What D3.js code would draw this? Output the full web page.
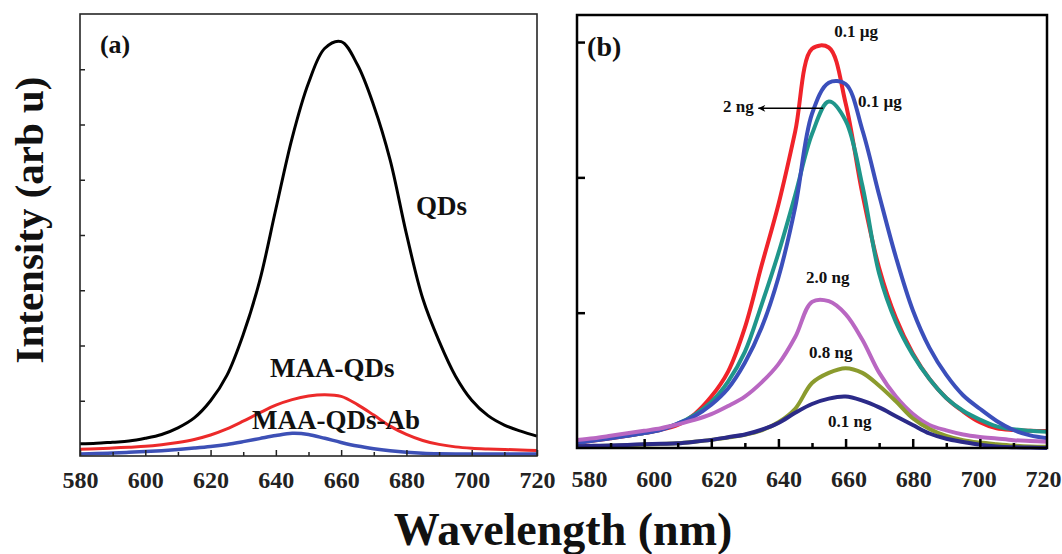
<!DOCTYPE html>
<html>
<head>
<meta charset="utf-8">
<script src="https://cdn.jsdelivr.net/npm/d3@7"></script>
<style>
body { margin: 0; background: #fff; }
text { font-family: "Liberation Serif", "Times New Roman", serif; font-weight: bold; }
</style>
</head>
<body>
<div id="chart"></div>
<script>
// 画布大小
const width = 1062, height = 554;

// 波长 (nm)
const wavelengths = [580, 585, 590, 595, 600, 605, 610, 615, 620, 625, 630, 635, 640, 645, 650,
                     655, 660, 665, 670, 675, 680, 685, 690, 695, 700, 705, 710, 715, 720];
const xMajorTicks = [580, 600, 620, 640, 660, 680, 700, 720];
const xMinorTicks = [590, 610, 630, 650, 670, 690, 710];
const yTicksA = [1, 2, 3, 4, 5, 6, 7];
const yTicksB = [1, 2, 3];

// (a) 强度
const qds      = [0.22, 0.23, 0.25, 0.27, 0.32, 0.39, 0.51, 0.69, 1.00, 1.46, 2.20, 3.16, 4.47, 5.76, 6.75,
                  7.38, 7.50, 7.08, 6.34, 5.36, 4.02, 2.85, 2.08, 1.45, 1.01, 0.73, 0.56, 0.45, 0.36];
const maaQds   = [0.12, 0.13, 0.145, 0.16, 0.175, 0.205, 0.245, 0.30, 0.38, 0.49, 0.63, 0.78, 0.92, 1.02, 1.085,
                  1.11, 1.08, 0.93, 0.74, 0.54, 0.39, 0.28, 0.21, 0.165, 0.14, 0.127, 0.118, 0.11, 0.10];
const maaQdsAb = [0.035, 0.045, 0.055, 0.067, 0.08, 0.097, 0.118, 0.143, 0.172, 0.21, 0.26, 0.315, 0.37, 0.41, 0.39,
                  0.32, 0.245, 0.18, 0.133, 0.097, 0.07, 0.052, 0.042, 0.037, 0.035, 0.035, 0.035, 0.035, 0.035];

// (b) 强度
const ug01Red  = [0.035, 0.055, 0.072, 0.09, 0.11, 0.135, 0.17, 0.25, 0.38, 0.565, 0.89, 1.35, 1.80, 2.34, 2.95,
                  2.96, 2.55, 1.88, 1.33, 0.96, 0.70, 0.51, 0.37, 0.27, 0.19, 0.145, 0.133, 0.128, 0.126];
const ug01Blue = [0.035, 0.055, 0.072, 0.09, 0.11, 0.135, 0.18, 0.235, 0.32, 0.44, 0.63, 0.89, 1.26, 1.78, 2.47,
                  2.70, 2.69, 2.35, 1.87, 1.41, 1.02, 0.74, 0.54, 0.39, 0.29, 0.20, 0.133, 0.093, 0.072];
const ng2Teal  = [0.04, 0.058, 0.075, 0.092, 0.11, 0.138, 0.18, 0.245, 0.34, 0.49, 0.71, 1.06, 1.44, 1.87, 2.32,
                  2.56, 2.42, 1.94, 1.29, 0.93, 0.69, 0.51, 0.37, 0.275, 0.21, 0.16, 0.138, 0.127, 0.12];
const ng20     = [0.059, 0.072, 0.09, 0.109, 0.127, 0.146, 0.175, 0.208, 0.25, 0.31, 0.38, 0.485, 0.62, 0.82, 1.08,
                  1.085, 0.99, 0.80, 0.557, 0.38, 0.253, 0.17, 0.13, 0.10, 0.082, 0.07, 0.058, 0.052, 0.047];
const ng08     = [0.01, 0.013, 0.016, 0.02, 0.025, 0.03, 0.035, 0.046, 0.06, 0.077, 0.097, 0.13, 0.19, 0.29, 0.48,
                  0.555, 0.59, 0.555, 0.46, 0.345, 0.22, 0.14, 0.09, 0.058, 0.04, 0.028, 0.018, 0.012, 0.01];
const ng01     = [0.013, 0.016, 0.019, 0.023, 0.027, 0.031, 0.035, 0.046, 0.06, 0.08, 0.10, 0.135, 0.185, 0.26, 0.325,
                  0.365, 0.38, 0.35, 0.30, 0.235, 0.17, 0.107, 0.068, 0.045, 0.025, 0.012, 0.006, 0.003, 0.0];

const seriesA = [
  { values: qds, color: "#000000", w: 3 },
  { values: maaQds, color: "#ec2a2a", w: 3 },
  { values: maaQdsAb, color: "#3d50b6", w: 3.5 }
];
const seriesB = [
  { values: ug01Red, color: "#f0232a" },
  { values: ng2Teal, color: "#1f968b" },
  { values: ug01Blue, color: "#3b4fbb" },
  { values: ng20, color: "#b967c2" },
  { values: ng08, color: "#8b9b2e" },
  { values: ng01, color: "#2b2a88" }
];

const svg = d3.select("#chart").append("svg")
    .attr("width", width)
    .attr("height", height);

svg.append("rect").attr("width", width).attr("height", height).attr("fill", "#fff");

// 比例尺
const xA = d3.scaleLinear().domain([580, 720]).range([80, 537]);
const yA = d3.scaleLinear().domain([0, 8]).range([456, 14]);
const xB = d3.scaleLinear().domain([580, 720]).range([577, 1047]);
const yB = d3.scaleLinear().domain([0, 3.2]).range([448, 15]);
const xBLabel = d3.scaleLinear().domain([580, 720]).range([589, 1043]); // 右图刻度文字略有偏移

const fixAxis = (g, size, color, sw) => {
    g.select(".domain").remove();
    g.attr("font-size", size).attr("font-family", null).attr("color", color);
    g.selectAll("line").attr("stroke-width", sw);
};

// ---------- (a) ----------
const lineA = d3.line()
    .x((d, i) => xA(wavelengths[i]))
    .y(d => yA(d))
    .curve(d3.curveCatmullRom.alpha(0.5));

seriesA.forEach(s => {
    svg.append("path")
        .attr("d", lineA(s.values))
        .attr("fill", "none")
        .attr("stroke", s.color)
        .attr("stroke-width", s.w)
        .attr("stroke-linejoin", "round");
});

svg.append("g").attr("transform", `translate(0,${yA(0)})`)
    .call(d3.axisBottom(xA).tickValues(xMinorTicks).tickSizeInner(-4).tickSizeOuter(0).tickFormat(""))
    .call(g => fixAxis(g, 24, "#222", 1.5));
svg.append("g").attr("transform", `translate(0,${yA(0)})`)
    .call(d3.axisBottom(xA).tickValues(xMajorTicks).tickSizeInner(-6).tickSizeOuter(0).tickPadding(15).tickFormat(d3.format("d")))
    .call(g => fixAxis(g, 24, "#222", 1.5));
svg.append("g").attr("transform", `translate(${xA(580)},0)`)
    .call(d3.axisLeft(yA).tickValues(yTicksA).tickSizeInner(-5).tickSizeOuter(0).tickFormat(""))
    .call(g => fixAxis(g, 24, "#222", 1.5));

svg.append("rect")
    .attr("x", xA(580)).attr("y", yA(8))
    .attr("width", xA(720) - xA(580)).attr("height", yA(0) - yA(8))
    .attr("fill", "none").attr("stroke", "#262626").attr("stroke-width", 1.6);

const addText = (txt, x, y, size) => svg.append("text")
    .attr("x", x).attr("y", y).attr("font-size", size).attr("fill", "#111").text(txt);

addText("(a)", xA(586.1), yA(7.29), 26);
addText("QDs", xA(682.9), yA(4.36), 27);
addText("MAA-QDs", xA(638.2), yA(1.43), 27);
addText("MAA-QDs-Ab", xA(632.7), yA(0.49), 27);

// ---------- (b) ----------
const lineB = d3.line()
    .x((d, i) => xB(wavelengths[i]))
    .y(d => yB(d))
    .curve(d3.curveCatmullRom.alpha(0.5));

seriesB.forEach(s => {
    svg.append("path")
        .attr("d", lineB(s.values))
        .attr("fill", "none")
        .attr("stroke", s.color)
        .attr("stroke-width", 4)
        .attr("stroke-linejoin", "round");
});

svg.append("g").attr("transform", `translate(0,${yB(0)})`)
    .call(d3.axisBottom(xB).tickValues(xMinorTicks).tickSizeInner(-5).tickSizeOuter(0).tickFormat(""))
    .call(g => fixAxis(g, 24, "#000", 2.5));
svg.append("g").attr("transform", `translate(0,${yB(0)})`)
    .call(d3.axisBottom(xB).tickValues(xMajorTicks.slice(1, -1)).tickSizeInner(-9).tickSizeOuter(0).tickFormat(""))
    .call(g => fixAxis(g, 24, "#000", 2.5));
svg.append("g").attr("transform", `translate(0,${yB(0)})`)
    .call(d3.axisBottom(xBLabel).tickValues(xMajorTicks).tickSize(0).tickPadding(22).tickFormat(d3.format("d")))
    .call(g => fixAxis(g, 24, "#222", 0));
svg.append("g").attr("transform", `translate(${xB(580)},0)`)
    .call(d3.axisLeft(yB).tickValues(yTicksB).tickSizeInner(-8).tickSizeOuter(0).tickFormat(""))
    .call(g => fixAxis(g, 24, "#000", 2.5));

svg.append("rect")
    .attr("x", xB(580)).attr("y", yB(3.2))
    .attr("width", xB(720) - xB(580)).attr("height", yB(0) - yB(3.2))
    .attr("fill", "none").attr("stroke", "#000").attr("stroke-width", 2.5);

addText("(b)", xB(583.0), yB(2.897), 28);
addText("0.1 \u00b5g", xB(656.6), yB(3.04), 17);
addText("0.1 \u00b5g", xB(663.7), yB(2.52), 17);
addText("2 ng", xB(623.5), yB(2.48), 17);
addText("2.0 ng", xB(648.2), yB(1.22), 17);
addText("0.8 ng", xB(649.1), yB(0.665), 17);
addText("0.1 ng", xB(654.8), yB(0.155), 17);

// 箭头
svg.append("defs").append("marker")
    .attr("id", "arrow")
    .attr("viewBox", "0 0 10 10")
    .attr("refX", 10).attr("refY", 5)
    .attr("markerWidth", 9).attr("markerHeight", 7)
    .attr("markerUnits", "userSpaceOnUse")
    .attr("orient", "auto")
    .append("path").attr("d", "M0,0 L10,5 L0,10 L3,5 z").attr("fill", "#000");

svg.append("line")
    .attr("x1", xB(653.3)).attr("y1", yB(2.51))
    .attr("x2", xB(634.0)).attr("y2", yB(2.51))
    .attr("stroke", "#000").attr("stroke-width", 1.5)
    .attr("marker-end", "url(#arrow)");

// 坐标轴标题
svg.append("text")
    .attr("transform", "translate(43,220) rotate(-90)")
    .attr("text-anchor", "middle")
    .attr("font-size", 41)
    .attr("fill", "#111")
    .text("Intensity (arb u)");

svg.append("text")
    .attr("x", 563).attr("y", 545)
    .attr("text-anchor", "middle")
    .attr("font-size", 46)
    .attr("fill", "#111")
    .text("Wavelength (nm)");
</script>
</body>
</html>
